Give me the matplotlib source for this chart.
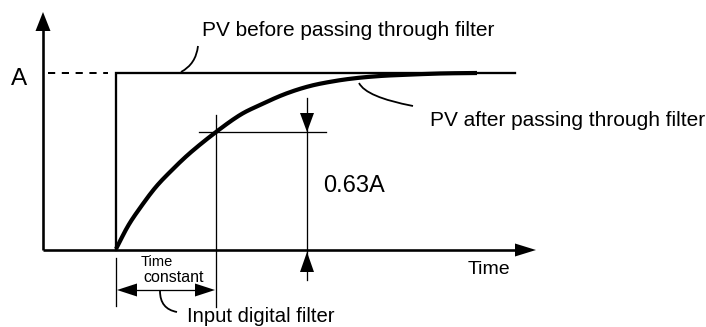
import numpy as np
import matplotlib
matplotlib.use("Agg")
import matplotlib.pyplot as plt
from matplotlib.path import Path
from matplotlib.patches import PathPatch, Polygon

plt.rcParams["font.family"] = ["Liberation Sans", "DejaVu Sans"]

# Diagram coordinates (canvas units, y grows downward)
origin = (43, 250)
step_time = 116          # instant the input steps up
tau_time = 216           # one time constant after the step
level_A = 73             # final value A
level_063 = 132          # 0.63 A
step_end = 515

# Filtered PV response, sampled along the curve
curve_t = [116, 128, 140, 155, 170, 190, 216, 240, 260, 285, 310, 335, 357, 380, 400, 440, 477]
curve_y = [249, 226, 208, 188, 172, 153, 132, 115, 105, 94, 86, 81, 78, 76, 75, 73.5, 73]

labels = {
    "before": "PV before passing through filter",
    "after": "PV after passing through filter",
    "level": "A",
    "ratio": "0.63A",
    "time": "Time",
    "tc1": "Time",
    "tc2": "constant",
    "filter": "Input digital filter",
}

W, H = 706, 327
fig = plt.figure(figsize=(W / 100, H / 100), dpi=100)
ax = fig.add_axes([0, 0, 1, 1])
ax.set_xlim(0, W)
ax.set_ylim(H, 0)
ax.axis("off")

PX = 72 / 100  # points per pixel


def catmull_rom(xs, ys, n=16):
    pts = np.column_stack([xs, ys]).astype(float)
    pts = np.vstack([2 * pts[0] - pts[1], pts, 2 * pts[-1] - pts[-2]])
    out = []
    for i in range(1, len(pts) - 2):
        p0, p1, p2, p3 = pts[i - 1], pts[i], pts[i + 1], pts[i + 2]
        for t in np.linspace(0, 1, n, endpoint=False):
            t2, t3 = t * t, t * t * t
            out.append(0.5 * ((2 * p1) + (-p0 + p2) * t
                              + (2 * p0 - 5 * p1 + 4 * p2 - p3) * t2
                              + (-p0 + 3 * p1 - 3 * p2 + p3) * t3))
    out.append(pts[-2])
    out = np.array(out)
    return out[:, 0], out[:, 1]


def head(tip, direction, length, half):
    tx, ty = tip
    dx, dy = direction
    bx, by = tx - dx * length, ty - dy * length
    px, py = -dy, dx
    ax.add_patch(Polygon([(tx, ty), (bx + px * half, by + py * half),
                          (bx - px * half, by - py * half)],
                         closed=True, color="black", lw=0))


def leader(p0, ctrl, p1):
    path = Path([p0, ctrl, p1], [Path.MOVETO, Path.CURVE3, Path.CURVE3])
    ax.add_patch(PathPatch(path, fill=False, lw=1.8 * PX, color="black"))


thin = 1.3 * PX
axis_lw = 2.6 * PX

# axes with arrowheads
ax.plot([origin[0], origin[0]], [origin[1], 28], color="black", lw=axis_lw,
        solid_capstyle="butt")
head((origin[0], 12), (0, -1), 19, 7.5)
ax.plot([origin[0], step_end], [origin[1], origin[1]], color="black",
        lw=axis_lw, solid_capstyle="butt")
head((536, origin[1]), (1, 0), 21, 6.5)

# dashed reference to level A
ax.plot([48, 108], [level_A, level_A], color="black", lw=2.0 * PX,
        dashes=(3.6, 3.3), dash_capstyle="butt")

# step input
ax.plot([step_time, step_time, step_end], [origin[1], level_A, level_A],
        color="black", lw=2.3 * PX, solid_joinstyle="miter")

# filtered response
cx, cy = catmull_rom(curve_t, curve_y)
ax.plot(cx, cy, color="black", lw=4.2 * PX, solid_capstyle="butt")

# time-constant crosshair
ax.plot([tau_time, tau_time], [115, 307], color="black", lw=thin)
ax.plot([199, 326], [level_063, level_063], color="black", lw=thin)

# 0.63A dimension
ax.plot([307, 307], [98, 280], color="black", lw=thin)
head((307, level_063), (0, 1), 19, 7)
head((307, 252), (0, -1), 20, 7)

# time-constant dimension
ax.plot([step_time, step_time], [258, 306], color="black", lw=thin)
ax.plot([step_time + 18, tau_time - 18], [290, 290], color="black", lw=thin)
head((step_time + 1, 290), (-1, 0), 20, 6.5)
head((tau_time - 1, 290), (1, 0), 20, 6.5)

# leaders
leader((198, 46), (196, 64), (181, 72))
leader((359, 83), (366, 97), (413, 106))
leader((160, 291), (160, 309), (177, 312))

# text
ax.text(202, 30, labels["before"], fontsize=15, va="center", ha="left")
ax.text(430, 121, labels["after"], fontsize=15, va="center", ha="left")
ax.text(19, 79, labels["level"], fontsize=17.5, va="center", ha="center")
ax.text(323, 186, labels["ratio"], fontsize=17, va="center", ha="left")
ax.text(468, 270, labels["time"], fontsize=14, va="center", ha="left")
ax.text(141, 262, labels["tc1"], fontsize=10.5, va="center", ha="left")
ax.text(143, 277, labels["tc2"], fontsize=11.5, va="center", ha="left")
ax.text(187, 317, labels["filter"], fontsize=14.6, va="center", ha="left")

fig.savefig("out.png", dpi=100, facecolor="white")
